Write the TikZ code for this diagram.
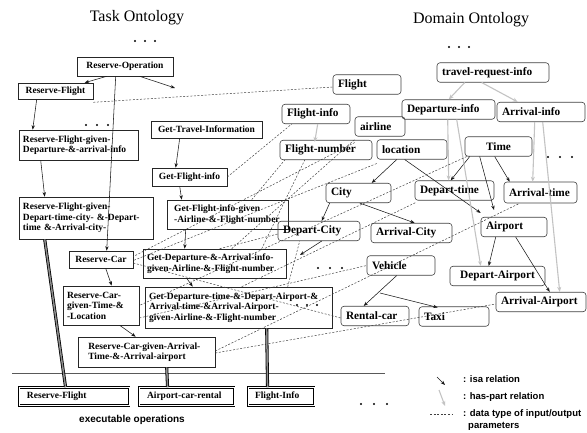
\documentclass[tikz,border=0pt]{standalone}
\usepackage{fontspec}
\setmainfont{Liberation Serif}
\newfontfamily\legfont{Liberation Sans}
\usetikzlibrary{arrows.meta}
\newcommand\nohyph{\exhyphenpenalty=10000 \hyphenpenalty=10000 \relax}
\newcommand\lfnt{\bfseries\fontsize{9.5}{10.5}\selectfont\nohyph}
\newcommand\rfnt{\bfseries\fontsize{11.3}{13}\selectfont\nohyph}
\begin{document}
\begin{tikzpicture}[x=1pt,y=-1pt,
  lbox/.style={draw=black!85, line width=0.6pt, font=\lfnt, inner xsep=4pt, inner ysep=1pt, align=left},
  ebox/.style={draw=black, line width=0.9pt, double=white, double distance=0.9pt, font=\lfnt, inner xsep=8pt, inner ysep=1pt, align=left, minimum height=18pt},
  rb/.style={draw=black!75, rounded corners=3pt, line width=0.6pt, font=\rfnt, inner xsep=5pt, inner ysep=1pt, align=left, minimum height=19.5pt},
  isa/.style={draw=black!90, line width=0.55pt, -{Stealth[length=4.5pt,width=3.4pt]}},
  hp/.style={draw={rgb,255:red,195;green,195;blue,195}, line width=1.1pt, -{Stealth[length=5pt,width=4pt]}},
  dl/.style={draw=black!75, line width=0.5pt, dash pattern=on 2pt off 1.6pt},
  tl/.style={draw=black, line width=0.8pt, double=black!45, double distance=1.5pt},
  ttl/.style={font=\fontsize{16}{18}\selectfont},
  leg/.style={font=\legfont\bfseries\fontsize{9.5}{11}\selectfont, inner sep=0pt, anchor=west, align=left},
]
\useasboundingbox (0,0) rectangle (587,433);

% titles
\node[ttl] (ttask) at (137,18) {Task Ontology};
\node[ttl] (tdom) at (471,20) {Domain Ontology};

% left boxes
\node[lbox, minimum width=96pt, minimum height=19pt, align=center] (RO) at (125,66.5) {Reserve-Operation};
\node[lbox, minimum width=75pt, minimum height=16pt, align=center] (RF) at (55.5,91) {Reserve-Flight};
\node[lbox, text width=111pt, minimum height=30pt] (RFGD) at (78.5,145) {Reserve-Flight-given-\\Departure-\&-arrival-info};
\node[lbox, minimum width=111pt, minimum height=17pt, align=center] (GTI) at (206.5,129.5) {Get-Travel-Information};
\node[lbox, minimum width=75pt, minimum height=18pt, align=center] (GFI) at (189.5,177) {Get-Flight-info};
\node[lbox, text width=126pt, minimum height=42pt] (RFGDT) at (86,218) {Reserve-Flight-given-\\Depart-time-city- \&-Depart-\\time \&-Arrival-city-};
\node[lbox, text width=113pt, minimum height=29pt] (GFIG) at (227.5,214.5) {\ Get-Flight-info-given\\\ -Airline-\&-Flight-number};
\node[lbox, minimum width=64pt, minimum height=17pt, align=center] (RC) at (101,259.5) {Reserve-Car};
\node[lbox, text width=135pt, minimum height=29pt] (GDA) at (214.5,263.5) {Get-Departure-\&-Arrival-info-\\given-Airline-\&-Flight-number};
\node[lbox, text width=68pt, minimum height=39pt] (RCGT) at (101,305.5) {Reserve-Car-\\given-Time-\&\\-Location};
\node[lbox, text width=179pt, minimum height=41pt] (GDT) at (238.5,307.5) {Get-Departure-time-\&-Depart-Airport-\&\\Arrival-time-\&Arrival-Airport-\\given-Airline-\&-Flight-number};
\node[lbox, text width=129pt, minimum height=30pt] (RCGA) at (146.5,352) {\ \ Reserve-Car-given-Arrival-\\\ \ Time-\&-Arrival-airport};

% executable operations
\node[ebox, text width=94pt] (ERF) at (74,396.5) {Reserve-Flight};
\node[ebox, text width=79pt] (EACR) at (186.5,396.5) {Airport-car-rental};
\node[ebox, text width=52pt, inner xsep=7pt] (EFI) at (281,396.5) {Flight-Info};
\node[font=\legfont\bfseries\fontsize{10}{12}\selectfont] (exop) at (132,420) {executable operations};

% right boxes
\node[rb, text width=58pt] (Flight) at (367,84.5) {Flight};
\node[rb, text width=102pt] (TRI) at (493,72.5) {travel-request-info};
\node[rb, text width=58pt] (FlightInfo) at (316,114) {Flight-info};
\node[rb, text width=83pt] (DepInfo) at (448.5,109.5) {Departure-info};
\node[rb, text width=78pt] (ArrInfo) at (541,112) {Arrival-info};
\node[rb, text width=40pt] (airline) at (380,126.5) {airline};
\node[rb, text width=82pt] (FlightNumber) at (326,150) {Flight-number};
\node[rb, text width=60pt] (loc) at (412,149.5) {location};
\node[rb, text width=57pt, align=center] (Time) at (498.5,146.5) {Time};
\node[rb, text width=55pt] (City) at (358.5,193) {City};
\node[rb, text width=69pt] (DepTime) at (454.5,190.5) {Depart-time};
\node[rb, text width=63pt, minimum height=21pt] (ArrTime) at (540.5,192.5) {Arrival-time};
\node[rb, text width=72pt] (DepCity) at (319,231) {Depart-City};
\node[rb, text width=71pt] (ArrCity) at (411.5,233) {Arrival-City};
\node[rb, text width=56pt] (Airport) at (514,227) {Airport};
\node[rb, text width=58pt] (Vehicle) at (401,265.5) {Vehicle};
\node[rb, text width=85pt, align=center] (DepAirport) at (497.5,276) {Depart-Airport};
\node[rb, text width=80pt] (ArrAirport) at (541,302) {Arrival-Airport};
\node[rb, text width=58pt] (RentalCar) at (375,316) {Rental-car};
\node[rb, text width=60pt] (Taxi) at (454,316.5) {Taxi};

% free ends
\coordinate (c1) at (175,88);
\coordinate (c2) at (300,255);
\coordinate (c3) at (494,210);
\coordinate (c4) at (380,293);

% dots
\foreach \x in {135,145,155} \fill (\x,41) circle (1.2);
\foreach \x in {449,459,469} \fill (\x,47) circle (1.2);
\foreach \x in {86,97,108} \fill (\x,125) circle (1.2);
\foreach \x in {548,560,572} \fill (\x,157) circle (1.2);
\foreach \x in {318,330,342} \fill (\x,268) circle (1.2);
\foreach \x in {297,307,317} \fill (\x,305) circle (1.2);
\foreach \x in {361,374,387} \fill (\x,404) circle (1.2);

% separator
\draw[black!65, line width=0.8pt] (12,373) -- (385,373);

% isa arrows (task)
\draw[isa] ([xshift=30pt]RO.south west) -- ([xshift=67pt]RF.north west);
\draw[isa] ([xshift=63pt]RO.south west) -- (c1);
\draw[isa] ([xshift=39pt]RO.south west) -- ([xshift=38pt]RC.north west);
\draw[isa] ([xshift=19pt]RF.south west) -- ([xshift=14pt]RFGD.north west);
\draw[isa] ([xshift=22pt]RFGD.south west) -- ([xshift=26pt]RFGDT.north west);
\draw[isa] ([xshift=29pt]GTI.south west) -- ([xshift=24pt]GFI.north west);
\draw[isa] ([xshift=28pt]GFI.south west) -- ([xshift=15pt]GFIG.north west);
\draw[isa] ([xshift=19pt]GFIG.south west) -- ([xshift=42pt]GDA.north west);
\draw[isa] ([xshift=44pt]GDA.south west) -- ([xshift=48pt]GDT.north west);
\draw[isa] ([xshift=37pt]RC.south west) -- ([xshift=49pt]RCGT.north west);
\draw[isa] ([xshift=57pt]RCGT.south west) -- ([xshift=58pt]RCGA.north west);

% isa arrows (domain)
\draw[isa] ([xshift=20pt]loc.south west) -- ([xshift=46pt]City.north west);
\draw[isa] ([xshift=28pt]loc.south west) -- ([yshift=4pt]Airport.north west);
\draw[isa] ([xshift=4pt]City.south west) -- ([xshift=44pt]DepCity.north west);
\draw[isa] ([xshift=34pt]City.south west) -- ([xshift=44pt]ArrCity.north west);
\draw[isa] ([xshift=44pt]DepCity.south west) -- (c2);
\draw[isa] ([xshift=5pt]Time.south west) -- ([xshift=36pt]DepTime.north west);
\draw[isa] ([xshift=15pt]Time.south west) -- (c3);
\draw[isa] ([xshift=30pt]Time.south west) -- ([xshift=6pt]ArrTime.north west);
\draw[isa] ([xshift=15pt]Airport.south west) -- ([xshift=39pt]DepAirport.north west);
\draw[isa] ([xshift=35pt]Airport.south west) -- ([xshift=54pt]ArrAirport.north west);
\draw[isa] ([xshift=30pt]Vehicle.south west) -- ([xshift=23pt]RentalCar.north west);
\draw[isa] (c4) -- ([xshift=19pt,yshift=-1pt]Taxi.north west);

% has-part arrows
\draw[hp] ([xshift=28pt]TRI.south west) -- ([xshift=47pt]DepInfo.north west);
\draw[hp] ([xshift=45pt]TRI.south west) -- ([xshift=21pt]ArrInfo.north west);
\draw[hp] ([xshift=36pt]FlightInfo.south west) -- ([xshift=35pt,yshift=-2pt]FlightNumber.north west);
\draw[hp] ([xshift=46pt]DepInfo.south west) -- ([xshift=34pt]DepTime.north west);
\draw[hp] ([xshift=55pt]DepInfo.south west) -- ([xshift=31pt]DepAirport.north west);
\draw[hp] ([xshift=38pt]ArrInfo.south west) -- ([xshift=29pt]ArrTime.north west);
\draw[hp] ([xshift=46pt]ArrInfo.south west) -- ([xshift=64pt]ArrAirport.north west);

% data type (dashed)
\draw[dl] ([yshift=-3pt]RF.south east) -- ([yshift=-2.5pt]Flight.west);
\draw[dl] (GFI.east) -- ([xshift=10pt]FlightInfo.south west);
\draw[dl] ([xshift=85pt]GFIG.north west) -- ([xshift=5pt]FlightNumber.south west);
\draw[dl] ([xshift=89pt]GDA.north west) -- ([yshift=-3pt]airline.south west);
\draw[dl] ([xshift=119pt]GDA.north west) -- ([xshift=25pt]FlightNumber.south west);
\draw[dl] ([xshift=143pt]GDT.north west) -- ([xshift=22pt]DepCity.south west);
\draw[dl] ([xshift=77pt]GDA.north west) -- ([yshift=-3pt]DepCity.west);
\draw[dl] ([xshift=97pt]GDT.north west) -- ([xshift=1pt,yshift=-2pt]DepTime.south west);
\draw[dl] ([xshift=2pt]Time.south west) -- (RCGT.east);
\draw[dl] ([yshift=-4pt]loc.south west) -- ([yshift=-1pt]RC.east);
\draw[dl] ([yshift=-6pt]airline.south west) -- ([yshift=3pt]RC.east);
\draw[dl] ([yshift=-3.5pt]RC.east) -- ([yshift=-2pt]RentalCar.west);
\draw[dl] ([yshift=-12.5pt]RCGT.east) -- (Vehicle.west);
\draw[dl] ([yshift=-1pt]RCGA.east) -- ([yshift=-2pt]ArrAirport.west);
\draw[dl] ([yshift=1pt]RCGA.east) -- ([xshift=16pt]ArrTime.south west);

% links to executable operations
\draw[tl] ([xshift=26pt]RFGDT.south west) -- ([xshift=47pt]ERF.north west);
\draw[tl] ([xshift=89pt]RCGA.south west) -- ([xshift=29pt]EACR.north west);
\draw[tl] ([xshift=122pt]GDT.south west) -- ([xshift=20pt]EFI.north west);

% legend
\coordinate (la1) at (437,377); \coordinate (la2) at (445,385);
\coordinate (lb1) at (439,390); \coordinate (lb2) at (445,406);
\coordinate (lc1) at (430,414); \coordinate (lc2) at (453,414);
\draw[isa] (la1) -- (la2);
\draw[hp] (lb1) -- (lb2);
\draw[dl] (lc1) -- (lc2);
\node[leg] (lisa) at (463,379) {: isa relation};
\node[leg] (lhp) at (463,397) {: has-part relation};
\node[leg] (ldt) at (463,414) {: data type of input/output};
\node[leg] (lpar) at (468,426) {parameters};
\end{tikzpicture}
\end{document}
